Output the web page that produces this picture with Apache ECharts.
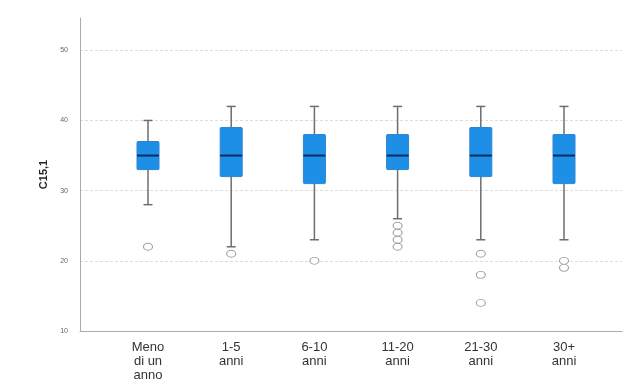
<!DOCTYPE html>
<html>
<head>
<meta charset="utf-8">
<script src="https://cdn.jsdelivr.net/npm/echarts@6/dist/echarts.min.js"></script>
<style>html,body{margin:0;padding:0;background:#fff}#c{width:630px;height:385px}</style>
</head>
<body>
<div id="c"></div>
<script>
var categories = ['Meno\ndi un\nanno', '1-5\nanni', '6-10\nanni', '11-20\nanni', '21-30\nanni', '30+\nanni'];
// [lower whisker, Q1, median, Q3, upper whisker]
var boxValues = [
  [28, 33, 35, 37, 40],
  [22, 32, 35, 39, 42],
  [23, 31, 35, 38, 42],
  [26, 33, 35, 38, 42],
  [23, 32, 35, 39, 42],
  [23, 31, 35, 38, 42]
];
// [category index, value]
var outliers = [
  [0, 22],
  [1, 21],
  [2, 20],
  [3, 25], [3, 24], [3, 23], [3, 22],
  [4, 21], [4, 18], [4, 14],
  [5, 20], [5, 19]
];
var yTicks = [10, 20, 30, 40, 50];

var chart = echarts.init(document.getElementById('c'), null, {renderer: 'canvas'});
var yMin = 10, yMax = 54.6;
var font = 'Liberation Sans, Arial, sans-serif';
chart.setOption({
  animation: false,
  grid: [
    {left: 80, top: 18, width: 542, bottom: 54},
    {left: 106.4, top: 18, width: 499.2, bottom: 54}
  ],
  xAxis: [
    {gridIndex: 0, type: 'value', min: 0, max: 1, axisLine: {show: true, lineStyle: {color: '#aaa', width: 1}},
     axisTick: {show: false}, axisLabel: {show: false}, splitLine: {show: false}},
    {gridIndex: 1, type: 'category', data: categories, boundaryGap: true,
     axisLine: {show: false}, axisTick: {show: false},
     axisLabel: {show: true, interval: 0, color: '#333', fontSize: 13, lineHeight: 14, margin: 9, fontFamily: font}}
  ],
  yAxis: [
    {gridIndex: 0, type: 'value', min: yMin, max: yMax, interval: 10,
     name: 'C15,1', nameLocation: 'middle', nameGap: 30, nameRotate: 90,
     nameTextStyle: {fontSize: 11, fontWeight: 'bold', color: '#222', fontFamily: font},
     axisLine: {show: true, lineStyle: {color: '#aaa', width: 1}},
     axisTick: {show: false},
     axisLabel: {color: '#666', fontSize: 7, margin: 12, fontFamily: font,
       formatter: function (v) { return yTicks.indexOf(v) >= 0 ? String(v) : ''; }},
     splitLine: {show: true, showMinLine: false, showMaxLine: false, lineStyle: {color: '#ddd', type: [3, 2], width: 1}}},
    {gridIndex: 1, type: 'value', min: yMin, max: yMax, show: false, splitLine: {show: false}}
  ],
  series: [
    {type: 'custom', name: 'box', xAxisIndex: 1, yAxisIndex: 1,
     data: boxValues.map(function (b, i) { return [i].concat(b); }),
     encode: {x: 0, y: [1, 2, 3, 4, 5]},
     renderItem: function (params, api) {
       var i = api.value(0);
       var lo = api.coord([i, api.value(1)]);
       var q1 = api.coord([i, api.value(2)]);
       var md = api.coord([i, api.value(3)]);
       var q3 = api.coord([i, api.value(4)]);
       var hi = api.coord([i, api.value(5)]);
       var x = q1[0];
       var ws = {stroke: '#6e6e6e', lineWidth: 1.5};
       return {type: 'group', children: [
         {type: 'line', shape: {x1: x, y1: hi[1], x2: x, y2: lo[1]}, style: ws},
         {type: 'line', shape: {x1: x - 4.5, y1: hi[1], x2: x + 4.5, y2: hi[1]}, style: ws},
         {type: 'line', shape: {x1: x - 4.5, y1: lo[1], x2: x + 4.5, y2: lo[1]}, style: ws},
         {type: 'rect', shape: {x: x - 11, y: q3[1], width: 22, height: q1[1] - q3[1], r: 1},
          style: {fill: '#1e8fe6', stroke: '#2a86d6', lineWidth: 1}},
         {type: 'line', shape: {x1: x - 11, y1: md[1], x2: x + 11, y2: md[1]},
          style: {stroke: '#0d2a5c', lineWidth: 2}}
       ]};
     }, z: 3},
    {type: 'scatter', xAxisIndex: 1, yAxisIndex: 1, data: outliers, symbol: 'circle', symbolSize: [9, 7],
     itemStyle: {color: '#fff', borderColor: '#888', borderWidth: 1}, z: 4}
  ]
});
</script>
</body>
</html>
